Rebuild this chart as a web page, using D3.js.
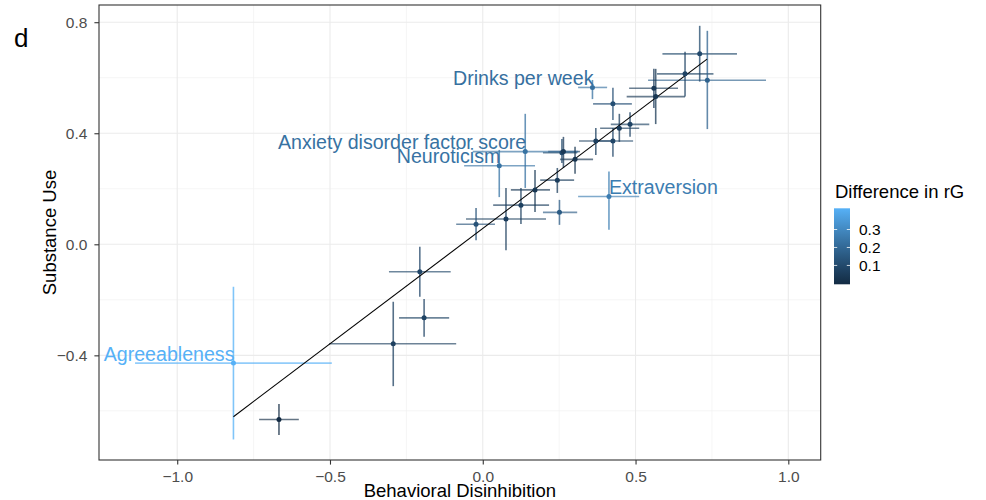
<!DOCTYPE html>
<html>
<head>
<meta charset="utf-8">
<script src="https://cdn.jsdelivr.net/npm/d3@7"></script>
<style>
  body { margin: 0; background: #fff; }
  svg { font-family: "Liberation Sans", Arial, Helvetica, sans-serif; }
</style>
</head>
<body>
<div class="container"></div>
<script>
// behavioral disinhibition (x) estimate and 95% CI
const bdEst = [0.710, 0.735, 0.662, 0.560, 0.566, 0.426, 0.359, 0.447, 0.482, 0.370, 0.426, 0.302, 0.259, 0.264,
  0.139, 0.054, 0.244, 0.171, 0.125, 0.251, 0.076, -0.022, 0.413, -0.206, -0.192, -0.293, -0.816, -0.667];
const bdLo = [0.588, 0.541, 0.570, 0.479, 0.471, 0.361, 0.312, 0.384, 0.419, 0.315, 0.374, 0.253, 0.197, 0.214,
  -0.033, -0.061, 0.188, 0.092, 0.034, 0.197, -0.055, -0.087, 0.312, -0.307, -0.274, -0.503, -1.138, -0.732];
const bdHi = [0.832, 0.927, 0.755, 0.639, 0.662, 0.488, 0.407, 0.512, 0.545, 0.423, 0.492, 0.361, 0.309, 0.318,
  0.312, 0.171, 0.299, 0.220, 0.217, 0.309, 0.207, 0.040, 0.512, -0.105, -0.110, -0.087, -0.494, -0.602];
// substance use (y) estimate and 95% CI
const suEst = [0.686, 0.591, 0.614, 0.562, 0.532, 0.506, 0.565, 0.418, 0.432, 0.372, 0.372, 0.306, 0.330, 0.334,
  0.334, 0.283, 0.231, 0.196, 0.141, 0.115, 0.091, 0.072, 0.172, -0.099, -0.265, -0.358, -0.428, -0.631];
const suLo = [0.586, 0.415, 0.532, 0.491, 0.433, 0.448, 0.523, 0.369, 0.387, 0.322, 0.315, 0.254, 0.293, 0.275,
  0.203, 0.170, 0.185, 0.116, 0.073, 0.070, -0.021, 0.015, 0.052, -0.189, -0.333, -0.511, -0.703, -0.687];
const suHi = [0.787, 0.769, 0.694, 0.632, 0.632, 0.564, 0.592, 0.470, 0.476, 0.419, 0.419, 0.351, 0.379, 0.387,
  0.470, 0.340, 0.275, 0.268, 0.203, 0.160, 0.203, 0.131, 0.262, -0.009, -0.197, -0.207, -0.153, -0.575];
const diffRG = [0.10, 0.18, 0.08, 0.05, 0.04, 0.12, 0.225, 0.06, 0.08, 0.07, 0.09, 0.03, 0.10, 0.05,
  0.23, 0.235, 0.06, 0.04, 0.07, 0.16, 0.06, 0.13, 0.265, 0.09, 0.08, 0.07, 0.418, -0.005];
const traitLabels = ["", "", "", "", "", "", "Drinks per week", "", "", "", "", "", "", "",
  "Anxiety disorder factor score", "Neuroticism", "", "", "", "", "", "", "Extraversion", "", "", "", "Agreeableness", ""];
const labelsLeftOfPoint = ["Drinks per week", "Anxiety disorder factor score", "Neuroticism", "Agreeableness"];

// fitted line (lm) endpoints
const fitX = [-0.816, 0.734];
const fitY = [-0.621, 0.667];

const xMajor = [-1.0, -0.5, 0.0, 0.5, 1.0];
const xMinor = [-0.75, -0.25, 0.25, 0.75];
const yMajor = [-0.4, 0.0, 0.4, 0.8];
const yMinor = [-0.6, -0.2, 0.2, 0.6];
const legendTicks = [0.1, 0.2, 0.3];

const data = bdEst.map((d, i) => ({
  x: d, xlo: bdLo[i], xhi: bdHi[i],
  y: suEst[i], ylo: suLo[i], yhi: suHi[i],
  diff: diffRG[i], label: traitLabels[i]
}));

const W = 986, H = 500;
const panel = { left: 99, right: 820.7, top: 5, bottom: 460 };

const svg = d3.select(".container")
  .append("svg")
  .attr("width", W)
  .attr("height", H);

const xScale = d3.scaleLinear()
  .domain([-1.256, 1.106])
  .range([panel.left, panel.right]);

const yScale = d3.scaleLinear()
  .domain([-0.777, 0.862])
  .range([panel.bottom, panel.top]);

const colour = d3.scaleLinear()
  .domain(d3.extent(diffRG))
  .range(["#132B43", "#56B1F7"])
  .interpolate(d3.interpolateLab);

// grid
const grid = svg.append("g");
grid.selectAll(".xminor").data(xMinor).enter().append("line")
  .attr("x1", d => xScale(d)).attr("x2", d => xScale(d))
  .attr("y1", panel.top).attr("y2", panel.bottom)
  .attr("stroke", "#f0f0f0").attr("stroke-width", 0.7);
grid.selectAll(".yminor").data(yMinor).enter().append("line")
  .attr("x1", panel.left).attr("x2", panel.right)
  .attr("y1", d => yScale(d)).attr("y2", d => yScale(d))
  .attr("stroke", "#f0f0f0").attr("stroke-width", 0.7);
grid.selectAll(".xmajor").data(xMajor).enter().append("line")
  .attr("x1", d => xScale(d)).attr("x2", d => xScale(d))
  .attr("y1", panel.top).attr("y2", panel.bottom)
  .attr("stroke", "#ebebeb").attr("stroke-width", 1.1);
grid.selectAll(".ymajor").data(yMajor).enter().append("line")
  .attr("x1", panel.left).attr("x2", panel.right)
  .attr("y1", d => yScale(d)).attr("y2", d => yScale(d))
  .attr("stroke", "#ebebeb").attr("stroke-width", 1.1);

// error bars
svg.selectAll(".hbar").data(data).enter().append("line")
  .attr("x1", d => xScale(d.xlo)).attr("x2", d => xScale(d.xhi))
  .attr("y1", d => yScale(d.y)).attr("y2", d => yScale(d.y))
  .attr("stroke", d => colour(d.diff))
  .attr("stroke-opacity", 0.65)
  .attr("stroke-width", 1.6);

svg.selectAll(".vbar").data(data).enter().append("line")
  .attr("x1", d => xScale(d.x)).attr("x2", d => xScale(d.x))
  .attr("y1", d => yScale(d.ylo)).attr("y2", d => yScale(d.yhi))
  .attr("stroke", d => colour(d.diff))
  .attr("stroke-opacity", 0.75)
  .attr("stroke-width", 1.6);

// regression line
svg.append("line")
  .attr("x1", xScale(fitX[0])).attr("y1", yScale(fitY[0]))
  .attr("x2", xScale(fitX[1])).attr("y2", yScale(fitY[1]))
  .attr("stroke", "#000")
  .attr("stroke-width", 1.1);

// points
svg.selectAll(".dot").data(data).enter().append("circle")
  .attr("class", "dot")
  .attr("cx", d => xScale(d.x))
  .attr("cy", d => yScale(d.y))
  .attr("r", 2.5)
  .attr("fill", d => colour(d.diff));

// labels
svg.selectAll(".lab").data(data.filter(d => d.label !== "")).enter().append("text")
  .attr("x", d => labelsLeftOfPoint.includes(d.label) ? xScale(d.x) + 1 : xScale(d.x))
  .attr("y", d => yScale(d.y) - 2.5)
  .attr("text-anchor", d => labelsLeftOfPoint.includes(d.label) ? "end" : "start")
  .attr("font-size", "19.6px")
  .attr("fill", d => colour(d.diff))
  .text(d => d.label);

// panel border
svg.append("rect")
  .attr("x", panel.left).attr("y", panel.top)
  .attr("width", panel.right - panel.left)
  .attr("height", panel.bottom - panel.top)
  .attr("fill", "none")
  .attr("stroke", "#333333")
  .attr("stroke-width", 1.1);

// axes
const xAxis = d3.axisBottom(xScale).tickValues(xMajor).tickFormat(d3.format(".1f"))
  .tickSize(4.6).tickSizeOuter(0).tickPadding(6);
const yAxis = d3.axisLeft(yScale).tickValues(yMajor).tickFormat(d3.format(".1f"))
  .tickSize(4.6).tickSizeOuter(0).tickPadding(7);

const gx = svg.append("g")
  .attr("transform", `translate(0, ${panel.bottom})`)
  .call(xAxis);
const gy = svg.append("g")
  .attr("transform", `translate(${panel.left}, 0)`)
  .call(yAxis);

[gx, gy].forEach(g => {
  g.select(".domain").remove();
  g.selectAll(".tick line").attr("stroke", "#333333").attr("stroke-width", 1.1);
  g.selectAll(".tick text")
    .attr("fill", "#4d4d4d")
    .attr("font-size", "15.5px")
    .attr("font-family", "Liberation Sans, Arial, sans-serif");
});

// axis titles
svg.append("text")
  .attr("x", (panel.left + panel.right) / 2)
  .attr("y", 497)
  .attr("text-anchor", "middle")
  .attr("font-size", "18.5px")
  .text("Behavioral Disinhibition");

svg.append("text")
  .attr("transform", `translate(56, ${(panel.top + panel.bottom) / 2}) rotate(-90)`)
  .attr("text-anchor", "middle")
  .attr("font-size", "18.5px")
  .text("Substance Use");

// panel tag
svg.append("text")
  .attr("x", 14)
  .attr("y", 47)
  .attr("font-size", "26px")
  .text("d");

// legend
const legend = { x: 834, y: 208.3, w: 16, h: 76 };
const ext = d3.extent(diffRG);
const defs = svg.append("defs");
const grad = defs.append("linearGradient")
  .attr("id", "rg-grad")
  .attr("x1", 0).attr("y1", 1).attr("x2", 0).attr("y2", 0);
d3.range(0, 1.0001, 0.1).forEach(t => {
  grad.append("stop")
    .attr("offset", t)
    .attr("stop-color", colour(ext[0] + t * (ext[1] - ext[0])));
});

svg.append("text")
  .attr("x", 835)
  .attr("y", 198)
  .attr("font-size", "18.5px")
  .text("Difference in rG");

svg.append("rect")
  .attr("x", legend.x).attr("y", legend.y)
  .attr("width", legend.w).attr("height", legend.h)
  .attr("fill", "url(#rg-grad)");

const legendScale = d3.scaleLinear()
  .domain(ext)
  .range([legend.y + legend.h, legend.y]);

const lt = svg.append("g");
lt.selectAll(".ltl").data(legendTicks).enter().append("line")
  .attr("x1", legend.x).attr("x2", legend.x + 3.2)
  .attr("y1", d => legendScale(d)).attr("y2", d => legendScale(d))
  .attr("stroke", "#fff").attr("stroke-width", 0.8);
lt.selectAll(".ltr").data(legendTicks).enter().append("line")
  .attr("x1", legend.x + legend.w - 3.2).attr("x2", legend.x + legend.w)
  .attr("y1", d => legendScale(d)).attr("y2", d => legendScale(d))
  .attr("stroke", "#fff").attr("stroke-width", 0.8);
lt.selectAll(".ltx").data(legendTicks).enter().append("text")
  .attr("x", 859)
  .attr("y", d => legendScale(d))
  .attr("dy", "0.36em")
  .attr("font-size", "15.5px")
  .attr("fill", "#000")
  .text(d => d3.format(".1f")(d));
</script>
</body>
</html>
